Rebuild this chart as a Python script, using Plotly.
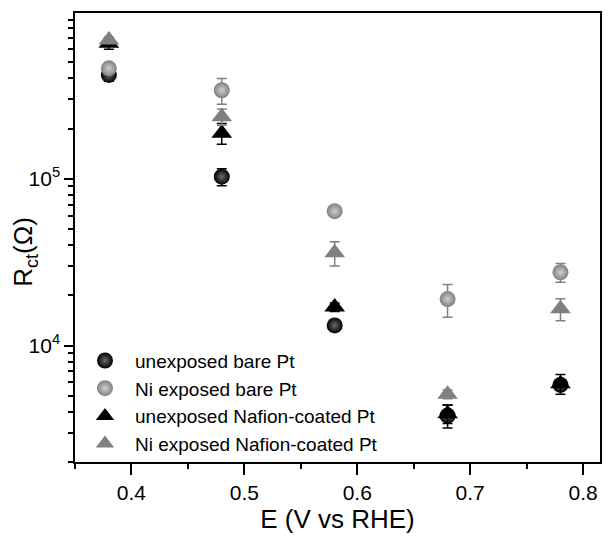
import plotly.graph_objects as go
import numpy as np

E = [0.38, 0.48, 0.58, 0.68, 0.78]

unexp_bare = [4.2e5, 1.03e5, 1.32e4, 3.8e3, 5.8e3]
unexp_bare_err = [3.5e4, 1.2e4, 1.0e3, 6.0e2, 4.0e2]

ni_bare = [4.6e5, 3.4e5, 6.4e4, 1.9e4, 2.75e4]
ni_bare_err = [3.0e4, 6.0e4, 3.0e3, 4.2e3, 3.5e3]

unexp_naf = [6.5e5, 1.88e5, 1.7e4, 3.9e3, 5.9e3]
unexp_naf_err = [5.0e4, 2.7e4, 1.0e3, 5.0e2, 8.0e2]

ni_naf = [6.8e5, 2.36e5, 3.6e4, 5.1e3, 1.66e4]
ni_naf_err = [3.0e4, 2.6e4, 6.0e3, 3.0e2, 2.5e3]

names = ["unexposed bare Pt", "Ni exposed bare Pt",
         "unexposed Nafion-coated Pt", "Ni exposed Nafion-coated Pt"]

y_major = [1e4, 1e5]
y_major_text = ["10<sup>4</sup>", "10<sup>5</sup>"]
y_minor = [m * 10 ** d for d in (3, 4, 5) for m in range(2, 10)]

BLACK = "#000000"
GRAY = "#808080"
FONT = "Arial, Liberation Sans, sans-serif"

fig = go.Figure()

def add(y, err, name, color, symbol, size, grad=None):
    marker = dict(color=color, symbol=symbol, size=size, line=dict(width=0))
    if grad:
        marker["gradient"] = dict(type="radial", color=grad)
    fig.add_trace(go.Scatter(
        x=E, y=y, mode="markers", name=name,
        marker=marker,
        error_y=dict(type="data", array=err, visible=True,
                     color=color, thickness=1.5, width=5),
    ))

add(unexp_bare, unexp_bare_err, names[0], BLACK, "circle", 16, "#6a6a6a")
add(ni_bare, ni_bare_err, names[1], GRAY, "circle", 16, "#cfcfcf")
add(unexp_naf, unexp_naf_err, names[2], BLACK, "triangle-up", 18)
add(ni_naf, ni_naf_err, names[3], GRAY, "triangle-up", 18)

fig.update_layout(
    width=609, height=537,
    margin=dict(l=75, r=7, t=13, b=75),
    paper_bgcolor="white", plot_bgcolor="white",
    font=dict(family=FONT, color="black"),
    showlegend=True,
    legend=dict(x=0.0, y=0.268, xanchor="left", yanchor="top",
                bgcolor="rgba(0,0,0,0)", font=dict(size=19, family=FONT),
                itemwidth=50),
    annotations=[dict(
        text="R<sub>ct</sub>(Ω)", textangle=-90, showarrow=False,
        xref="paper", yref="paper", x=0, y=0.468, xshift=-50,
        xanchor="center", yanchor="middle",
        font=dict(size=26, family=FONT, color="black"),
    )],
)

fig.update_xaxes(
    range=[0.35, 0.815], dtick=0.1, tick0=0.4,
    ticks="outside", ticklen=11, tickwidth=1.5, tickcolor="black",
    showline=True, linecolor="black", linewidth=1.5, mirror=True,
    showgrid=False, zeroline=False,
    tickfont=dict(size=21, family=FONT),
    title=dict(text="E (V vs RHE)", font=dict(size=26, family=FONT), standoff=5),
    minor=dict(dtick=0.05, tick0=0.35, ticks="outside", ticklen=5,
               tickwidth=1.5, tickcolor="black", showgrid=False),
)

fig.update_yaxes(
    type="log", range=[np.log10(2000), 5.995],
    tickmode="array", tickvals=y_major, ticktext=y_major_text,
    ticks="outside", ticklen=9, tickwidth=1.5, tickcolor="black",
    showline=True, linecolor="black", linewidth=1.5, mirror=True,
    showgrid=False, zeroline=False,
    tickfont=dict(size=21, family=FONT),
    minor=dict(tickmode="array", tickvals=y_minor, ticks="outside", ticklen=5,
               tickwidth=1.5, tickcolor="black", showgrid=False),
)

fig.write_html("out.html")
